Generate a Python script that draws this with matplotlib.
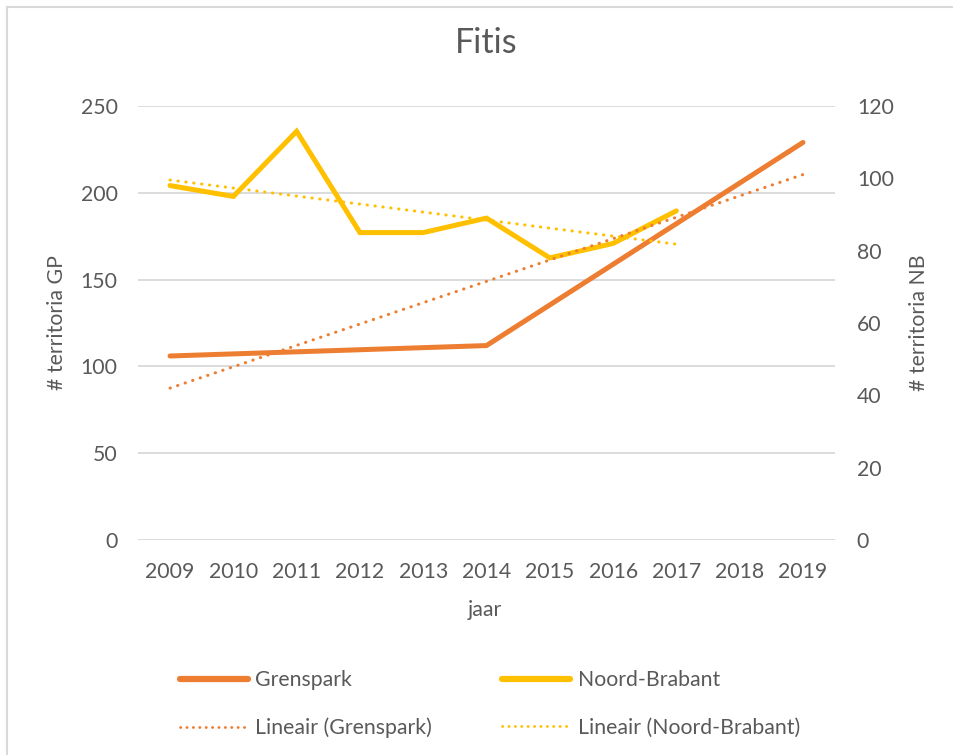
import matplotlib
matplotlib.use("Agg")
import matplotlib.pyplot as plt
import numpy as np
from matplotlib.lines import Line2D

plt.rcParams["font.family"] = ["Lato", "DejaVu Sans"]

# Data
years = [2009, 2010, 2011, 2012, 2013, 2014, 2015, 2016, 2017, 2018, 2019]
grenspark = [106, np.nan, np.nan, np.nan, np.nan, 112, np.nan, np.nan, np.nan, np.nan, 229]
noord_brabant = [98, 95, 113, 85, 85, 89, 78, 82, 91]

title = "Fitis"
x_label = "jaar"
y_label_left = "# territoria GP"
y_label_right = "# territoria NB"
left_ticks = [0, 50, 100, 150, 200, 250]
right_ticks = [0, 20, 40, 60, 80, 100, 120]

ORANGE = "#ED7D31"
YELLOW = "#FFC000"
GRID = "#D9D9D9"
TEXT = "#595959"
FS = 15.3

W, H, DPI = 954, 755, 100
fig = plt.figure(figsize=(W / DPI, H / DPI), dpi=DPI, facecolor="white")

# plot area in pixels
left_px, right_px, top_px, bottom_px = 138.4, 834.6, 106, 540
ax = fig.add_axes([left_px / W, 1 - bottom_px / H,
                   (right_px - left_px) / W, (bottom_px - top_px) / H])
ax2 = ax.twinx()

# chart border (top and left edges only visible in the crop)
fig.add_artist(Line2D([7 / W, 7 / W], [0, 1 - 7 / H], color=GRID, lw=1.5,
                      transform=fig.transFigure))
fig.add_artist(Line2D([7 / W, 1], [1 - 7 / H, 1 - 7 / H], color=GRID, lw=1.5,
                      transform=fig.transFigure))

idx = np.arange(len(years))
gp = np.array(grenspark, dtype=float)
valid = ~np.isnan(gp)
nb = np.array(noord_brabant, dtype=float)
nb_idx = np.arange(len(nb))

# linear trends (Excel "Lineair")
gp_fit = np.polyfit(idx[valid], gp[valid], 1)
gp_trend = np.polyval(gp_fit, idx)
nb_fit = np.polyfit(nb_idx, nb, 1)
nb_trend = np.polyval(nb_fit, nb_idx)

dots = dict(linestyle=(0, (0.1, 2.5)), dash_capstyle="round", linewidth=2.2)
leg_dots = dict(linestyle=(0, (0.1, 2.2)), dash_capstyle="round", linewidth=2.0)

ax.plot(idx[valid], gp[valid], color=ORANGE, lw=3.6, solid_capstyle="round", zorder=3)
ax2.plot(nb_idx, nb, color=YELLOW, lw=3.6, solid_capstyle="round",
         solid_joinstyle="miter", zorder=2)
ax2.plot(nb_idx, nb_trend, color=YELLOW, zorder=3, **dots)
ax2.plot(idx, gp_trend, color=ORANGE, transform=ax.transData, zorder=4, **dots)

ax.set_xlim(-0.5, len(years) - 0.5)
ax.set_ylim(0, 250)
ax2.set_ylim(0, 120)
ax.set_xticks(idx)
ax.set_xticklabels([str(y) for y in years])
ax.set_yticks(left_ticks)
ax2.set_yticks(right_ticks)

ax.grid(axis="y", color=GRID, lw=1.3)
ax.set_axisbelow(True)
for a in (ax, ax2):
    for s in a.spines.values():
        s.set_visible(False)
    a.patch.set_visible(False)

ax.tick_params(axis="x", length=0, pad=16, labelsize=FS, labelcolor=TEXT)
ax.tick_params(axis="y", length=0, pad=15, labelsize=FS, labelcolor=TEXT)
ax2.tick_params(axis="y", length=0, pad=16, labelsize=FS, labelcolor=TEXT)

ax.set_title(title, fontsize=24.5, color=TEXT, y=1 + (106 - 51) / 434, va="center")

ax.set_xlabel(x_label, fontsize=FS, color=TEXT)
ax.xaxis.label.set_va("center")
ax.xaxis.set_label_coords((485 - left_px) / (right_px - left_px), -(610 - bottom_px) / 434)

ax.set_ylabel(y_label_left, fontsize=FS, color=TEXT)
ax.yaxis.label.set_va("center")
ax.yaxis.set_label_coords((57 - left_px) / (right_px - left_px), 0.5)

ax2.set_ylabel(y_label_right, fontsize=FS, color=TEXT)
ax2.yaxis.label.set_va("center")
ax2.yaxis.set_label_coords((919 - left_px) / (right_px - left_px), 0.5)

handles = [
    Line2D([], [], color=ORANGE, lw=4.5, solid_capstyle="round"),
    Line2D([], [], color=ORANGE, **leg_dots),
    Line2D([], [], color=YELLOW, lw=4.5, solid_capstyle="round"),
    Line2D([], [], color=YELLOW, **leg_dots),
]
labels = ["Grenspark", "Lineair (Grenspark)", "Noord-Brabant", "Lineair (Noord-Brabant)"]
fig.legend(handles, labels, ncol=2, loc="upper left",
           bbox_to_anchor=(180 / W, 1 - 670 / H), frameon=False,
           borderpad=0, borderaxespad=0, fontsize=FS, labelcolor=TEXT,
           handlelength=3.2, handletextpad=0.35, columnspacing=3.3,
           labelspacing=1.3)

fig.savefig("out.png", dpi=DPI, facecolor="white")
